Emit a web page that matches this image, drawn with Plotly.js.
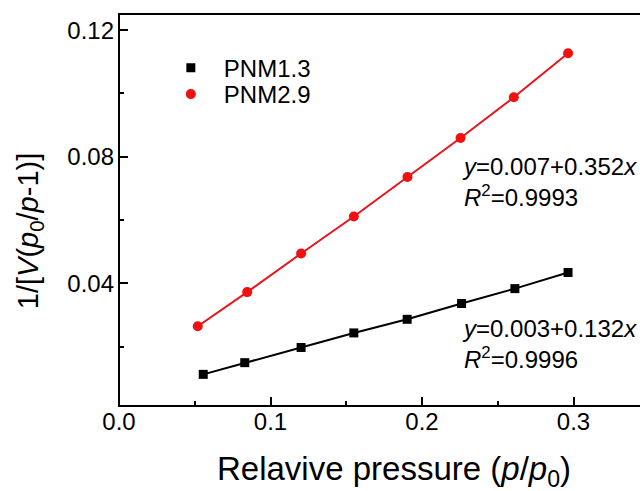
<!DOCTYPE html>
<html>
<head>
<meta charset="utf-8">
<script src="https://cdn.plot.ly/plotly-3.0.1.min.js"></script>
<style>html,body{margin:0;padding:0;background:#fff;overflow:hidden;}</style>
</head>
<body>
<div id="chart" style="width:640px;height:491px;"></div>
<script>
// Relative pressure p/p0
const xPNM13 = [0.0556, 0.0830, 0.1202, 0.1550, 0.1902, 0.2261, 0.2613, 0.2964];
const yPNM13 = [0.0112, 0.0149, 0.0197, 0.0243, 0.0286, 0.0336, 0.0383, 0.0434];
const xPNM29 = [0.0520, 0.0846, 0.1202, 0.1550, 0.1904, 0.2254, 0.2606, 0.2964];
const yPNM29 = [0.0264, 0.0372, 0.0494, 0.0611, 0.0736, 0.0859, 0.0988, 0.1127];
const seriesNames = ["PNM1.3", "PNM2.9"];
const fitTexts = [
  "<i>y</i>=0.003+0.132<i>x</i><br><i>R</i><sup>2</sup>=0.9996",
  "<i>y</i>=0.007+0.352<i>x</i><br><i>R</i><sup>2</sup>=0.9993"
];
const xTitle = "Relavive pressure (<i>p</i>/<i>p</i><sub>0</sub>)";
const yTitle = "1/[<i>V</i>(<i>p</i><sub>0</sub>/<i>p</i>-1)]";
const xTickVals = [0.0, 0.1, 0.2, 0.3];
const yTickVals = [0.04, 0.08, 0.12];

const FONT = "Liberation Sans, Arial, sans-serif";

const traces = [
  {x: xPNM13, y: yPNM13, mode: "lines", line: {color: "#000000", width: 2}, showlegend: false, hoverinfo: "skip"},
  {x: xPNM29, y: yPNM29, mode: "lines", line: {color: "#e8141a", width: 2}, showlegend: false, hoverinfo: "skip"},
  {x: xPNM13, y: yPNM13, mode: "markers", name: seriesNames[0], legend: "legend",
   marker: {symbol: "square", size: 9, color: "#000000"}},
  {x: xPNM29, y: yPNM29, mode: "markers", name: seriesNames[1], legend: "legend2",
   marker: {symbol: "circle", size: 10, color: "#f01010"}}
];

const legendBase = {xanchor: "left", yanchor: "top", bgcolor: "rgba(0,0,0,0)",
  font: {family: FONT, size: 24, color: "#000"}, itemwidth: 56};

const layout = {
  width: 640, height: 491,
  margin: {l: 119, r: 3, t: 14, b: 85},
  paper_bgcolor: "#ffffff", plot_bgcolor: "#ffffff",
  font: {family: FONT, color: "#000000", size: 24},
  showlegend: true,
  legend: Object.assign({x: 0.075, y: 0.919}, legendBase),
  legend2: Object.assign({x: 0.075, y: 0.852}, legendBase),
  xaxis: {
    range: [0, 0.3419], showgrid: false, zeroline: false,
    showline: false, mirror: false,
    ticks: "inside", ticklen: 9, tickwidth: 2, tickcolor: "#000",
    tickvals: xTickVals, tickformat: ".1f", ticklabelstandoff: -1,
    minor: {dtick: 0.05, tick0: 0, ticks: "inside", ticklen: 5, tickwidth: 2, tickcolor: "#000", showgrid: false},
    tickfont: {family: FONT, size: 24, color: "#000"},
    automargin: false
  },
  yaxis: {
    range: [0.0012, 0.1251], showgrid: false, zeroline: false,
    showline: false, mirror: false,
    ticks: "inside", ticklen: 9, tickwidth: 2, tickcolor: "#000",
    tickvals: yTickVals, tickformat: ".2f", ticklabelstandoff: 4,
    minor: {dtick: 0.02, tick0: 0, ticks: "inside", ticklen: 5, tickwidth: 2, tickcolor: "#000", showgrid: false},
    tickfont: {family: FONT, size: 24, color: "#000"},
    automargin: false
  },
  shapes: [
    {type: "rect", xref: "paper", yref: "paper", x0: 0.997, x1: 1.03, y0: -0.01, y1: 1.01,
     fillcolor: "#ffffff", line: {width: 0}, layer: "above"},
    {type: "line", xref: "paper", yref: "paper", x0: -0.002, x1: 1.01, y0: 1, y1: 1,
     line: {color: "#000", width: 2}, layer: "above"},
    {type: "line", xref: "paper", yref: "paper", x0: -0.002, x1: 1.01, y0: 0, y1: 0,
     line: {color: "#000", width: 2}, layer: "above"},
    {type: "line", xref: "paper", yref: "paper", x0: 0, x1: 0, y0: -0.002, y1: 1.002,
     line: {color: "#000", width: 2}, layer: "above"}
  ],
  annotations: [
    {x: 0.2249, y: 0.0209, xref: "x", yref: "y", xanchor: "left", yanchor: "middle", align: "left",
     text: fitTexts[0], showarrow: false, font: {family: FONT, size: 24, color: "#000"}},
    {x: 0.2249, y: 0.0719, xref: "x", yref: "y", xanchor: "left", yanchor: "middle", align: "left",
     text: fitTexts[1], showarrow: false, font: {family: FONT, size: 24, color: "#000"}},
    {x: 0.531, y: -0.106, xref: "paper", yref: "paper", xanchor: "center", yanchor: "top",
     text: xTitle, showarrow: false, font: {family: FONT, size: 33, color: "#000"}},
    {x: -0.173, y: 0.447, xref: "paper", yref: "paper", xanchor: "center", yanchor: "middle",
     text: yTitle, showarrow: false, textangle: -90, font: {family: FONT, size: 29, color: "#000"}}
  ]
};

Plotly.newPlot("chart", traces, layout, {displayModeBar: false, staticPlot: true});
</script>
</body>
</html>
